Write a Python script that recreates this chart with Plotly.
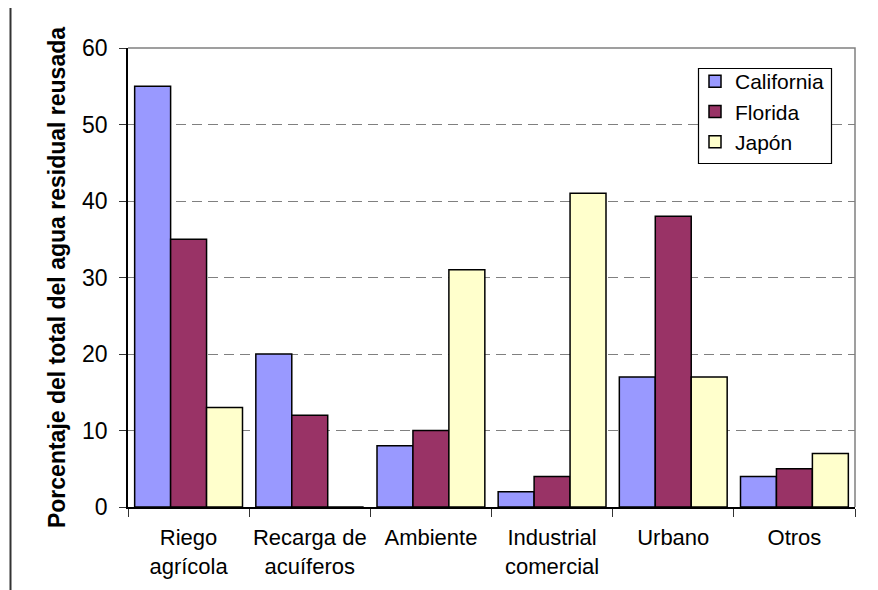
import plotly.graph_objects as go

categories = ["Riego<br>agrícola", "Recarga de<br>acuíferos", "Ambiente", "Industrial<br>comercial", "Urbano", "Otros"]
california = [55, 20, 8, 2, 17, 4]
florida = [35, 12, 10, 4, 38, 5]
japon = [13, 0, 31, 41, 17, 7]
series_names = ["California", "Florida", "Japón"]
series_colors = ["#9999FF", "#993366", "#FFFFCC"]
y_ticks = [0, 10, 20, 30, 40, 50, 60]

FONT = "Liberation Sans, Arial, sans-serif"

fig = go.Figure()
for name, vals, col in zip(series_names, [california, florida, japon], series_colors):
    fig.add_trace(go.Bar(
        x=categories, y=vals, name=name,
        marker=dict(color=col, line=dict(color="black", width=1.5)),
    ))

# page offset from default body margin
OFF = 8
W, H = 870, 582
L, R, T, B = 128 - OFF, 23, 48 - OFF, 83
pw = W - L - R
ph = H - T - B

def px_x(p):
    # page pixel -> paper coord
    return (p - OFF - L) / pw

def px_y(p):
    return (OFF + H - B - p) / ph

fig.update_layout(
    width=W, height=H,
    margin=dict(l=L, r=R, t=T, b=B, pad=0, autoexpand=False),
    paper_bgcolor="white", plot_bgcolor="white",
    barmode="group", bargap=0.11, bargroupgap=0,
    font=dict(family=FONT, size=21, color="black"),
    legend=dict(
        x=px_x(695), y=px_y(61), xanchor="left", yanchor="top",
        borderwidth=0, bgcolor="rgba(0,0,0,0)",
        font=dict(family=FONT, size=21, color="black"),
        itemwidth=30, tracegroupgap=0,
    ),
    xaxis=dict(
        showline=True, linecolor="black", linewidth=1.5,
        ticks="outside", ticklen=8, tickcolor="#333333", tickwidth=1.2,
        tickson="boundaries", showgrid=False, tickangle=0, automargin=False,
        tickfont=dict(family=FONT, size=22, color="black"),
        ticklabelstandoff=10,
    ),
    yaxis=dict(
        range=[0, 60], tickvals=y_ticks, automargin=False,
        showline=True, linecolor="black", linewidth=1.5,
        ticks="outside", ticklen=7, tickcolor="#333333", tickwidth=1.2,
        showgrid=True, gridcolor="#808080", gridwidth=1.2, griddash="10px,6px",
        zeroline=False,
        tickfont=dict(family=FONT, size=23, color="black"),
        ticklabelstandoff=7,
        title=dict(text="<b>Porcentaje del total del agua residual reusada</b>",
                   font=dict(family=FONT, size=23, color="black"), standoff=10),
    ),
    shapes=[
        # plot-area border (top and right, gray)
        dict(type="path", xref="paper", yref="paper",
             path="M 0 1 L 1 1 L 1 0",
             line=dict(color="#808080", width=1.5)),
        # legend box
        dict(type="rect", xref="paper", yref="paper", layer="above",
             x0=px_x(698.5), x1=px_x(831.5), y0=px_y(68.5), y1=px_y(163.5),
             fillcolor="white", line=dict(color="black", width=1.2)),
        # outer chart frame (top and left)
        dict(type="path", xref="paper", yref="paper",
             path=f"M {px_x(873.5)} {px_y(5.5)} L {px_x(10.5)} {px_y(5.5)} L {px_x(10.5)} {px_y(600)}",
             line=dict(color="#333333", width=2)),
    ],
)

fig.write_html("out.html")
